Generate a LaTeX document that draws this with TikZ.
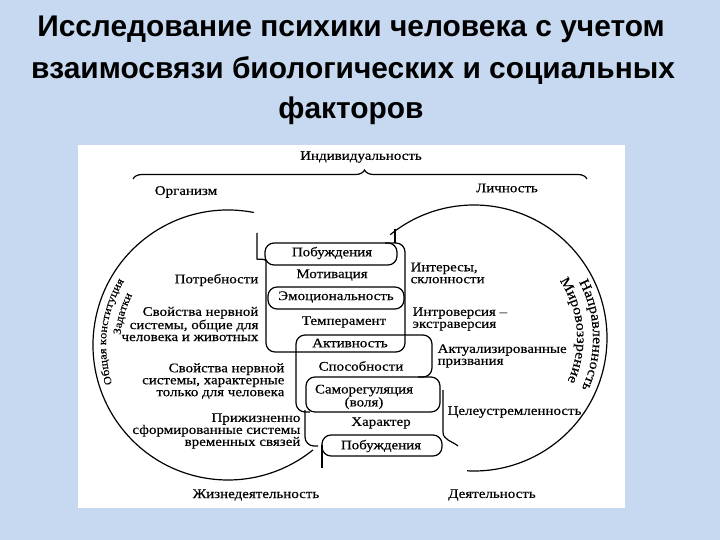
\documentclass[tikz,border=0pt]{standalone}
\usepackage{fontspec}
\setmainfont{Liberation Serif}[FakeStretch=1.14,FakeBold=0.4]
\newfontfamily\titlefont{Liberation Sans}
\usetikzlibrary{calc,decorations.pathreplacing,decorations.text}
\definecolor{slideblue}{RGB}{198,217,240}
\newcommand\lblfont{\fontsize{13.2}{12}\selectfont}
\tikzset{
  lbl/.style={font=\lblfont, inner sep=0pt},
  lleft/.style={lbl, align=right, anchor=east},
  lright/.style={lbl, align=left, anchor=west},
  ttl/.style={font=\titlefont\bfseries\fontsize{30}{41}\selectfont, inner sep=0pt, anchor=base},
  link/.style={rounded corners=9bp},
  arctext/.style 2 args={decorate, decoration={text along path, text align=center,
    text={|\fontsize{#1}{12}\selectfont|#2}}},
}
\begin{document}
\begin{tikzpicture}[x=1bp,y=-1bp,line width=1.2bp]
\useasboundingbox (0,0) rectangle (720,540);
\fill[slideblue] (0,0) rectangle (720,540);
\fill[white] (78,145) rectangle (625,508);

% title
\node[ttl] (title1) at (351,37) {Исследование психики человека с учетом};
\node[ttl] (title2) at (353,79) {взаимосвязи биологических и социальных};
\node[ttl] (title3) at (351,119) {факторов};

% top and bottom
\node[lbl] (indiv) at (361,157) {Индивидуальность};
\draw[decorate,decoration={brace,amplitude=9bp,aspect=0.51}] (133,179) -- (587,179);
\node[lbl] (organizm) at (186,192) {Организм};
\node[lbl] (lichnost) at (507,188) {Личность};
\node[lbl] (zhizn) at (256,495) {Жизнедеятельность};
\node[lbl] (deyat) at (492,495) {Деятельность};

% two circles
\coordinate (cL) at (228,345);
\coordinate (cR) at (474,338);
\draw ($(cL)+(-79:135)$) arc[start angle=-79,end angle=-309,radius=135];
\draw ($(cR)+(-129:133)$) arc[start angle=-129,end angle=93,radius=133];
\path[arctext={11}{Общая конституция}] ($(cL)+(150:122)$) arc[start angle=150,end angle=223,radius=122];
\path[arctext={11}{Задатки}] ($(cL)+(172:108)$) arc[start angle=172,end angle=221,radius=108];
\path[arctext={14}{Направленность}] ($(cR)+(-45:119)$) arc[start angle=-45,end angle=42,radius=119];
\path[arctext={14}{Мировоззрение}] ($(cR)+(-45:103)$) arc[start angle=-45,end angle=36,radius=103];

% column
\node[lbl] (pob1) at (332,253) {Побуждения};
\node[lbl] (motiv) at (332,275) {Мотивация};
\node[lbl] (emoc) at (336,297) {Эмоциональность};
\node[lbl] (temper) at (344,322) {Темперамент};
\node[lbl] (aktiv) at (350,343) {Активность};
\node[lbl] (sposob) at (361,366) {Способности};
\node[lbl,align=center] (samoreg) at (364,397) {Саморегуляция\\(воля)};
\node[lbl] (harakter) at (381,423) {Характер};
\node[lbl] (pob2) at (381,446) {Побуждения};

% links
\draw[link] (265,243) rectangle (397,265);
\draw[link] (257,233) -- (257,250) .. controls (257,260) and (266,258) .. (266,270)
  -- (266,352) -- (405,352) -- (405,243) -- (385,243);
\draw (395,229) -- (395,243);
\draw[link] (268,287) rectangle (404,309);
\draw[link] (310,412) -- (296,412) -- (296,335) -- (432,335) -- (432,377) -- (418,377);
\draw[link] (306,377) rectangle (440,412);
\draw[link] (305,410) -- (305,446) -- (318,446);
\draw (443,390) -- (443,432) .. controls (443,440) and (452,441) .. (458,446);
\draw[link] (322,435) rectangle (442,456);
\draw (322,445) -- (322,468);

% side labels
\node[lleft] (potreb) at (259,280) {Потребности};
\node[lleft] (svoist1) at (259,324) {Свойства нервной\\системы, общие для\\человека и животных};
\node[lleft] (svoist2) at (285,381) {Свойства нервной\\системы, характерные\\только для человека};
\node[lleft] (prizh) at (301,431) {Прижизненно\\сформированные системы\\временных связей};
\node[lright] (interes) at (410,273) {Интересы,\\склонности};
\node[lright] (introv) at (412,319) {Интроверсия –\\экстраверсия};
\node[lright] (aktual) at (437,356) {Актуализированные\\призвания};
\node[lright] (celeust) at (447,412) {Целеустремленность};
\end{tikzpicture}
\end{document}
